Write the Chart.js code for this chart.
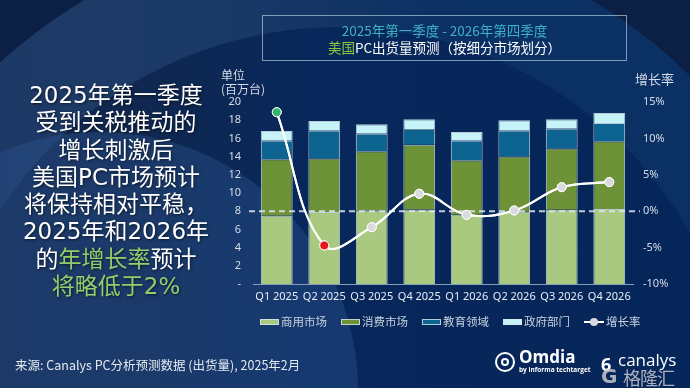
<!DOCTYPE html>
<html>
<head>
<meta charset="utf-8">
<script src="https://cdn.jsdelivr.net/npm/chart.js@4.4.1/dist/chart.umd.min.js"></script>
<style>
  html, body { margin: 0; padding: 0; }
  body { width: 690px; height: 388px; overflow: hidden; position: relative; background: #0c1f44;
         font-family: "Noto Sans", "Noto Sans CJK SC", sans-serif; color: #fff; }
  .shape { position: absolute; border-radius: 50%; }
  #ring { left: -162px; top: -69px; width: 1000px; height: 1000px;
          background: linear-gradient(90deg, #19335e 0%, #1e3b68 25%, #163766 45%, #0b3064 62%, #0a3064 100%); }
  #inner { left: -66px; top: 27px; width: 808px; height: 808px;
           background: linear-gradient(90deg, #14294f 0%, #102850 25%, #08275a 45%, #05265a 100%); }
  #blob { left: -158px; top: 132px; width: 516px; height: 516px; background: rgba(45, 85, 145, 0.40); }
  #chart { position: absolute; left: 0; top: 0; }
  .abs { position: absolute; white-space: nowrap; }
  #story { left: 0; top: 82px; width: 232px; text-align: center; font-family: "DejaVu Sans", "Noto Sans CJK SC", sans-serif;
           font-size: 23px; line-height: 27.3px; text-shadow: 1px 1px 3px rgba(0,0,0,0.6); }
  #story .g { color: #93cc6a; }
  #titlebox { left: 262px; top: 15px; width: 365px; height: 46px; border: 1px solid rgba(160, 195, 205, 0.75);
              text-align: center; font-family: "Noto Sans CJK SC", sans-serif; font-size: 13.5px; line-height: 17px; padding-top: 6px; box-sizing: border-box; }
  #titlebox .l1 { color: #3fb0c6; }
  #titlebox .l2 { color: #ffffff; }
  #titlebox .g { color: #8cc63f; }
  .unit { font-family: "Noto Sans CJK SC", sans-serif; font-size: 12px; color: #d6dde8; line-height: 14px; }
  #legend { left: 260px; top: 313px; font-family: "Noto Sans CJK SC", sans-serif; font-size: 11.5px; color: #c9d2de; }
  #legend span.item { display: inline-block; margin-right: 14px; }
  #legend i { display: inline-block; width: 19px; height: 6px; vertical-align: middle; margin-right: 2px;
              border: 1px solid rgba(215,230,238,0.8); box-sizing: border-box; position: relative; top: -1px; }
  #legend b { display: inline-block; width: 20px; height: 2px; background: #fff; vertical-align: middle; margin-right: 2px; position: relative; top: -1px; }
  #legend b:after { content: ""; position: absolute; left: 6px; top: -3px; width: 8px; height: 8px; border-radius: 50%; background: #d9d9de; }
  #source { left: 15px; top: 355px; font-family: "Liberation Sans Narrow", "Noto Sans CJK SC", sans-serif; font-size: 12.5px; color: #e4e9f0; }
  #omdia { left: 519px; top: 348px; font-family: "Open Sans", sans-serif; font-weight: 700; font-size: 17px; color: #fff; line-height: 18px; }
  #omdia small { display: block; font-size: 6.5px; line-height: 8px; font-weight: 700; }
  #omdiaIcon { left: 495px; top: 352px; width: 16px; height: 16px; border-radius: 50%; border: 2px solid #fff; }
  #omdiaIcon:after { content: ""; position: absolute; left: 4px; top: 4px; width: 4px; height: 4px; border-radius: 50%; border: 2px solid #fff; }
  #canalys { left: 618px; top: 348px; font-family: "Open Sans", sans-serif; font-size: 17px; color: #fff; }
  #canIcon { left: 601px; top: 352px; font-family: "Open Sans", sans-serif; font-weight: 700; font-size: 18px; color: #fff; }
  #glh { left: 623px; top: 364px; font-family: "Noto Sans CJK SC", sans-serif; font-size: 18px; color: rgba(200,200,205,0.85); letter-spacing: -1px; }
  #glhG { left: 601px; top: 364px; font-family: "DejaVu Sans", sans-serif; font-weight: 700; font-size: 20px; color: rgba(200,200,205,0.85); }
</style>
</head>
<body>
<div id="ring" class="shape"></div>
<div id="inner" class="shape"></div>
<div id="blob" class="shape"></div>

<canvas id="chart" width="690" height="388"></canvas>

<div id="story" class="abs">2025年第一季度<br>受到关税推动的<br>增长刺激后<br>美国PC市场预计<br>将保持相对平稳，<br>2025年和2026年<br>的<span class="g">年增长率</span>预计<br><span class="g">将略低于2%</span></div>

<div id="titlebox" class="abs"><div class="l1">2025年第一季度 - 2026年第四季度</div><div class="l2"><span class="g">美国</span>PC出货量预测（按细分市场划分）</div></div>

<div class="abs unit" style="left:221px; top:68px;">单位<br>(百万台)</div>
<div class="abs unit" style="left:635px; top:72px; font-size:13px;">增长率</div>

<div id="legend" class="abs">
  <span class="item"><i style="background:#a8c97f"></i>商用市场</span><span class="item"><i style="background:#6d9237"></i>消费市场</span><span class="item"><i style="background:#0e6490"></i>教育领域</span><span class="item"><i style="background:#c6f3f8"></i>政府部门</span><span class="item"><b></b>增长率</span>
</div>

<div id="source" class="abs">来源: Canalys PC分析预测数据 (出货量), 2025年2月</div>
<div id="omdiaIcon" class="abs"></div>
<div id="omdia" class="abs">Omdia<small>by informa techtarget</small></div>
<div id="canIcon" class="abs">6</div>
<div id="canalys" class="abs">canalys</div>
<div id="glhG" class="abs">G</div>
<div id="glh" class="abs">格隆汇</div>

<script>
const quarters = ['Q1 2025', 'Q2 2025', 'Q3 2025', 'Q4 2025', 'Q1 2026', 'Q2 2026', 'Q3 2026', 'Q4 2026'];
// millions of units
const commercial = [7.5, 7.9, 8.1, 8.2, 7.6, 7.95, 8.15, 8.25];
const consumer   = [6.2, 5.9, 6.5, 7.1, 6.0, 6.05, 6.75, 7.45];
const education  = [2.05, 3.05, 1.9, 1.7, 2.15, 2.85, 2.15, 2.0];
const government = [1.05, 1.05, 1.05, 1.1, 0.95, 1.15, 1.05, 1.1];
// growth rate, %
const growth = [13.6, -4.7, -2.2, 2.4, -0.5, 0.1, 3.3, 4.0];
const pointColors = ['#2fb56f', '#e8151d', '#d9d9de', '#d9d9de', '#d9d9de', '#d9d9de', '#d9d9de', '#d9d9de'];

const barBorder = 'rgba(215, 230, 238, 0.85)';
const tickFont = { family: '"Noto Sans", sans-serif', size: 11 };

// dashed reference line at 0% growth
const zeroLine = {
  id: 'zeroLine',
  afterDatasetsDraw(chart) {
    const y = chart.scales.y1.getPixelForValue(0);
    const ctx = chart.ctx;
    const a = chart.chartArea;
    ctx.save();
    ctx.strokeStyle = 'rgba(225, 232, 240, 0.85)';
    ctx.lineWidth = 2;
    ctx.setLineDash([6, 4]);
    ctx.beginPath();
    ctx.moveTo(a.left - 4, y);
    ctx.lineTo(a.right + 7, y);
    ctx.stroke();
    ctx.restore();
  }
};

// draw the growth line again above the dashed line
const lineOnTop = {
  id: 'lineOnTop',
  afterDraw(chart) {
    const meta = chart.getDatasetMeta(4);
    meta.controller.draw();
  }
};

new Chart(document.getElementById('chart'), {
  data: {
    labels: quarters,
    datasets: [
      { type: 'bar', label: '商用市场', data: commercial, backgroundColor: '#a8c97f', borderColor: barBorder, borderWidth: 1, order: 1 },
      { type: 'bar', label: '消费市场', data: consumer, backgroundColor: '#6d9237', borderColor: barBorder, borderWidth: 1, order: 1 },
      { type: 'bar', label: '教育领域', data: education, backgroundColor: '#0e6490', borderColor: barBorder, borderWidth: 1, order: 1 },
      { type: 'bar', label: '政府部门', data: government, backgroundColor: '#c6f3f8', borderColor: barBorder, borderWidth: 1, order: 1 },
      { type: 'line', label: '增长率', data: growth, yAxisID: 'y1', borderColor: '#ffffff', borderWidth: 2, tension: 0.4,
        pointRadius: 4.5, pointBackgroundColor: pointColors, pointBorderColor: '#ffffff', pointBorderWidth: 1, order: 0 }
    ]
  },
  options: {
    responsive: false,
    devicePixelRatio: 1,
    animation: false,
    datasets: { bar: { categoryPercentage: 1, barPercentage: 0.67 } },
    layout: { padding: { left: 213, right: 17, top: 102, bottom: 84 } },
    plugins: { legend: { display: false }, tooltip: { enabled: false } },
    scales: {
      x: {
        stacked: true,
        grid: { display: false, drawTicks: false },
        border: { color: 'rgba(150, 170, 195, 0.9)', width: 1 },
        ticks: { color: '#e8edf4', font: tickFont, padding: 6, maxRotation: 0 },
        afterFit(s) { s.height = 20; }
      },
      y: {
        stacked: true, min: 0, max: 20,
        grid: { display: false, drawTicks: false },
        border: { display: false },
        ticks: { stepSize: 2, color: '#d6dde8', font: tickFont, padding: 12,
                 callback: v => v === 0 ? '-' : v },
        afterFit(s) { s.width = 40; }
      },
      y1: {
        position: 'right', min: -10, max: 15,
        grid: { display: false, drawTicks: false },
        border: { display: false },
        ticks: { stepSize: 5, color: '#d6dde8', font: tickFont, padding: 10,
                 callback: v => v + '%' },
        afterFit(s) { s.width = 40; }
      }
    }
  },
  plugins: [zeroLine, lineOnTop]
});
</script>
</body>
</html>
